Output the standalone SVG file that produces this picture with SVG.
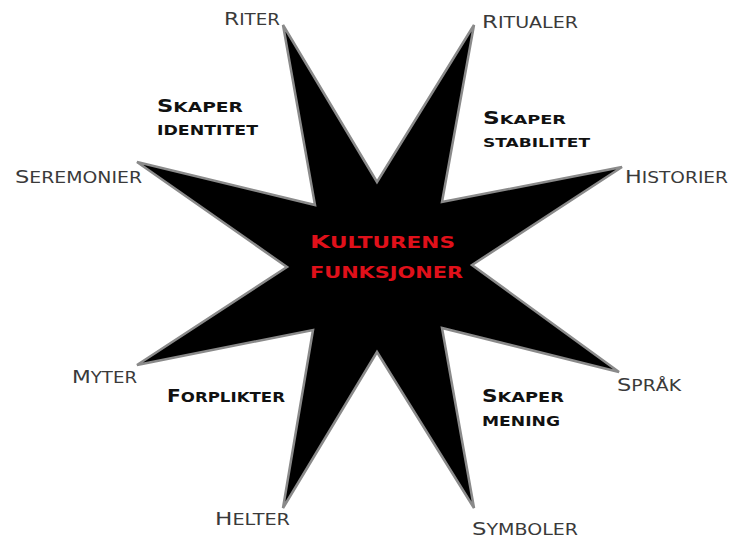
<svg xmlns="http://www.w3.org/2000/svg" width="734" height="540" viewBox="0 0 734 540">
<style>
.lbl{font-family:"DejaVu Sans","Liberation Sans",sans-serif;font-variant:small-caps;font-size:21px;fill:#3a3a3a}
.fn{font-family:"DejaVu Sans","Liberation Sans",sans-serif;font-variant:small-caps;font-weight:bold;font-size:20px;fill:#111}
.fns{font-size:19px}
.ctr{font-family:"DejaVu Sans","Liberation Sans",sans-serif;font-variant:small-caps;font-weight:bold;font-size:21px;fill:#e0101a}
.cap{font-size:18px}
.fcap{font-size:17px}
.star{fill:#000;stroke:#8a8a8a;stroke-width:2.5;stroke-linejoin:miter}
</style>
<rect width="734" height="540" fill="#fff"/>
<g id="star">
<polygon class="star" points="283,25 377,182 474,25 442,202 622,167 472,265 619,372 442,328 474,508 377,352 283,508 313,330 137,365 287,267 137,162 315,205"/>
</g>
<g id="center"><text class="ctr" x="310" y="248" textLength="145" lengthAdjust="spacingAndGlyphs"><tspan class="cap">K</tspan>ulturens</text><text class="ctr" x="310" y="278" textLength="153" lengthAdjust="spacingAndGlyphs">funksjoner</text></g>
<g id="riter"><text class="lbl" x="224" y="25" textLength="56" lengthAdjust="spacingAndGlyphs"><tspan class="cap">R</tspan>iter</text></g>
<g id="ritualer"><text class="lbl" x="482" y="28" textLength="96" lengthAdjust="spacingAndGlyphs"><tspan class="cap">R</tspan>itualer</text></g>
<g id="historier"><text class="lbl" x="625" y="183" textLength="103" lengthAdjust="spacingAndGlyphs"><tspan class="cap">H</tspan>istorier</text></g>
<g id="sprak"><text class="lbl" x="617" y="391" textLength="64" lengthAdjust="spacingAndGlyphs"><tspan class="cap">S</tspan>pråk</text></g>
<g id="symboler"><text class="lbl" x="472" y="535" textLength="106" lengthAdjust="spacingAndGlyphs"><tspan class="cap">S</tspan>ymboler</text></g>
<g id="helter"><text class="lbl" x="215" y="525" textLength="75" lengthAdjust="spacingAndGlyphs"><tspan class="cap">H</tspan>elter</text></g>
<g id="myter"><text class="lbl" x="72" y="383" textLength="65" lengthAdjust="spacingAndGlyphs"><tspan class="cap">M</tspan>yter</text></g>
<g id="seremonier"><text class="lbl" x="15" y="183" textLength="127" lengthAdjust="spacingAndGlyphs"><tspan class="cap">S</tspan>eremonier</text></g>
<g id="identitet"><text class="fn" x="157" y="112" textLength="86" lengthAdjust="spacingAndGlyphs"><tspan class="fcap">S</tspan>kaper</text><text class="fn" x="157" y="135" textLength="101" lengthAdjust="spacingAndGlyphs">identitet</text></g>
<g id="stabilitet"><text class="fn fns" x="483" y="124" textLength="83" lengthAdjust="spacingAndGlyphs"><tspan class="fcap">S</tspan>kaper</text><text class="fn fns" x="483" y="147" textLength="107" lengthAdjust="spacingAndGlyphs">stabilitet</text></g>
<g id="mening"><text class="fn" x="482" y="402" textLength="82" lengthAdjust="spacingAndGlyphs"><tspan class="fcap">S</tspan>kaper</text><text class="fn" x="482" y="426" textLength="78" lengthAdjust="spacingAndGlyphs">mening</text></g>
<g id="forplikter"><text class="fn" x="167" y="402" textLength="118" lengthAdjust="spacingAndGlyphs"><tspan class="fcap">F</tspan>orplikter</text></g>
<g id="connectors"></g>
</svg>
